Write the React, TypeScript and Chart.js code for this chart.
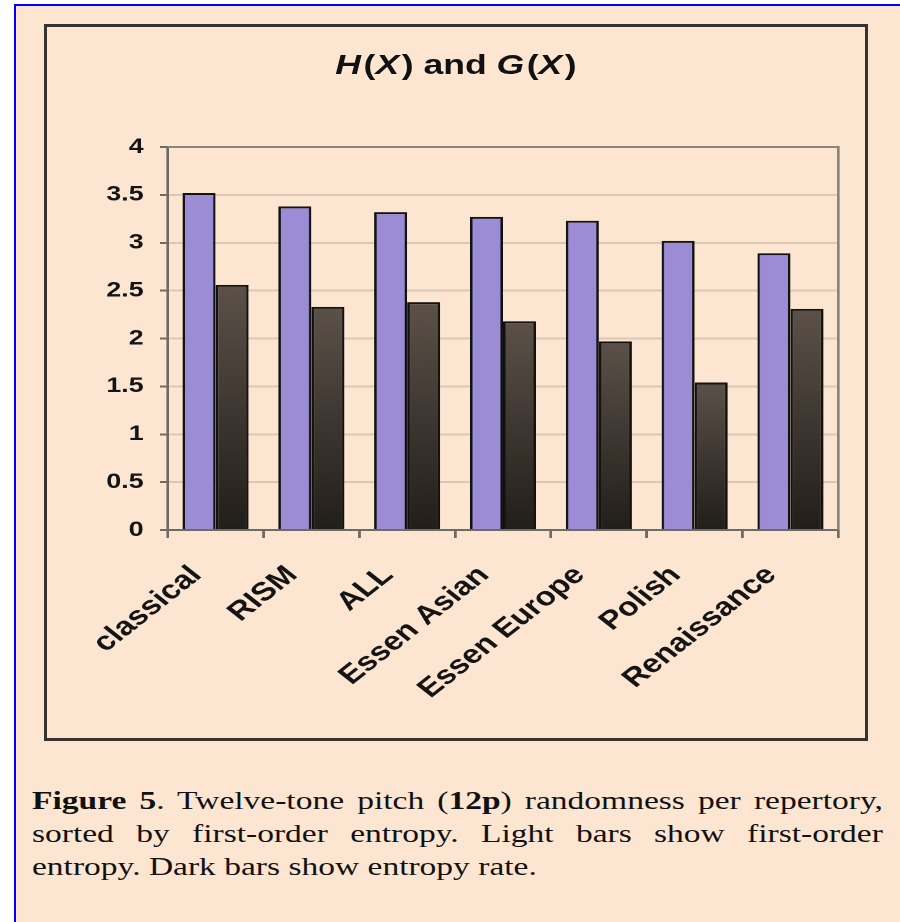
import React, { useEffect, useRef } from "react";
import { Chart, registerables } from "chart.js";

Chart.register(...registerables);

const categories = ["classical", "RISM", "ALL", "Essen Asian", "Essen Europe", "Polish", "Renaissance"];
const firstOrderEntropy = [3.52, 3.38, 3.32, 3.27, 3.23, 3.02, 2.89];
const entropyRate = [2.56, 2.33, 2.38, 2.18, 1.97, 1.54, 2.31];
const yTickValues = [0, 0.5, 1, 1.5, 2, 2.5, 3, 3.5, 4];
const yTickLabels = ["0", "0.5", "1", "1.5", "2", "2.5", "3", "3.5", "4"];

const PEACH = "#fde6d1";
const STRETCH = 818 / 644;

const plotFrame = {
  id: "plotFrame",
  beforeDatasetsDraw(chart: any) {
    const { ctx, chartArea: a } = chart;
    ctx.save();
    ctx.strokeStyle = "#8c857e";
    ctx.lineWidth = 2;
    ctx.beginPath();
    ctx.moveTo(a.left, a.top);
    ctx.lineTo(a.right, a.top);
    ctx.lineTo(a.right, a.bottom);
    ctx.stroke();
    ctx.restore();
  },
};

function darkFill(c: any) {
  const chart = c.chart;
  const fallback = "#3d3630";
  if (!chart.chartArea || c.type !== "data" || typeof c.raw !== "number") return fallback;
  const yScale = chart.scales.y;
  const top = yScale.getPixelForValue(c.raw);
  const bottom = yScale.getPixelForValue(0);
  if (!isFinite(top) || !isFinite(bottom) || top === bottom) return fallback;
  const g = chart.ctx.createLinearGradient(0, top, 0, bottom);
  g.addColorStop(0, "#5b5149");
  g.addColorStop(1, "#221e19");
  return g;
}

export default function App() {
  const canvasRef = useRef<HTMLCanvasElement | null>(null);

  useEffect(() => {
    const canvas = canvasRef.current;
    if (!canvas) return;
    const tickFont = { family: "'Liberation Sans', Arial, sans-serif", size: 21, weight: "bold" as const };
    const catFont = { family: "'Liberation Sans', Arial, sans-serif", size: 26, weight: "bold" as const };
    const chart = new Chart(canvas, {
      type: "bar",
      data: {
        labels: categories,
        datasets: [
          {
            label: "H(X)",
            data: firstOrderEntropy,
            backgroundColor: "#9b8cd5",
            borderColor: "#121212",
            borderWidth: 2,
            categoryPercentage: 0.69,
            barPercentage: 1,
          },
          {
            label: "G(X)",
            data: entropyRate,
            backgroundColor: darkFill as any,
            borderColor: "#121212",
            borderWidth: 2,
            categoryPercentage: 0.69,
            barPercentage: 1,
          },
        ],
      },
      options: {
        responsive: false,
        animation: false,
        devicePixelRatio: 2,
        layout: { padding: { top: 120, right: 21, bottom: 0, left: 0 } },
        plugins: {
          legend: { display: false },
          title: { display: false },
          tooltip: { enabled: false },
        },
        scales: {
          x: {
            grid: {
              display: true,
              drawOnChartArea: false,
              drawTicks: true,
              tickLength: 8,
              color: "#6f6a66",
              lineWidth: 2,
              offset: true,
            },
            border: { display: true, color: "#6f6a66", width: 2 },
            ticks: {
              autoSkip: false,
              maxRotation: 45,
              minRotation: 45,
              padding: 22,
              labelOffset: -15,
              color: "#141414",
              font: catFont,
            },
            afterFit: (s: any) => {
              s.height = 208;
            },
          },
          y: {
            min: 0,
            max: 4,
            afterBuildTicks: (s: any) => {
              s.ticks = yTickValues.map((v) => ({ value: v }));
            },
            grid: {
              color: "#dcc7b4",
              lineWidth: 2,
              drawTicks: true,
              tickLength: 6,
              tickColor: "#6f6a66",
            },
            border: { display: true, color: "#6f6a66", width: 2 },
            ticks: {
              padding: 13,
              color: "#141414",
              font: tickFont,
              callback: (_v: any, i: number) => yTickLabels[i],
            },
            afterFit: (s: any) => {
              s.width = 95;
            },
          },
        },
      },
      plugins: [plotFrame],
    });
    return () => chart.destroy();
  }, []);

  return (
    <div
      style={{
        position: "absolute",
        left: 0,
        top: 0,
        width: 900,
        height: 922,
        overflow: "hidden",
        background: "#ffffff",
      }}
    >
      <div
        style={{
          position: "absolute",
          left: 14,
          top: 4,
          width: 900,
          height: 940,
          borderLeft: "2px solid #0000ff",
          borderTop: "2px solid #0000ff",
          background: PEACH,
        }}
      />
      <div
        style={{
          position: "absolute",
          left: 44,
          top: 24,
          width: 818,
          height: 711,
          border: "3px solid #38332e",
          background: PEACH,
        }}
      >
        <canvas
          ref={canvasRef}
          width={644}
          height={711}
          style={{ position: "absolute", left: 0, top: 0, width: "818px", height: "711px" }}
        />
        <div
          style={{
            position: "absolute",
            left: 0,
            top: 22,
            width: 818,
            textAlign: "center",
            lineHeight: "32px",
            fontFamily: "'Liberation Sans', Arial, sans-serif",
            fontWeight: "bold",
            fontSize: 28,
            color: "#111",
          }}
        >
          <span style={{ display: "inline-block", transform: `scaleX(${STRETCH})`, transformOrigin: "center" }}>
            <i>H</i>
            <span style={{ marginLeft: 2 }}>(</span>
            <i>X</i>
            <span style={{ marginLeft: 2 }}>)</span> and <i>G</i>
            <span style={{ marginLeft: 2 }}>(</span>
            <i>X</i>
            <span style={{ marginLeft: 2 }}>)</span>
          </span>
        </div>
      </div>
      <div
        style={{
          position: "absolute",
          left: 32,
          top: 784,
          width: 635,
          transform: "scaleX(1.34)",
          transformOrigin: "left top",
          fontFamily: "'Liberation Serif', 'Times New Roman', serif",
          fontSize: 25,
          lineHeight: "33px",
          textAlign: "justify",
          color: "#111",
        }}
      >
        <b>Figure 5</b>. Twelve-tone pitch (<b>12p</b>) randomness per repertory, sorted by first-order entropy.
        Light bars show first-order entropy. Dark bars show entropy rate.
      </div>
    </div>
  );
}
